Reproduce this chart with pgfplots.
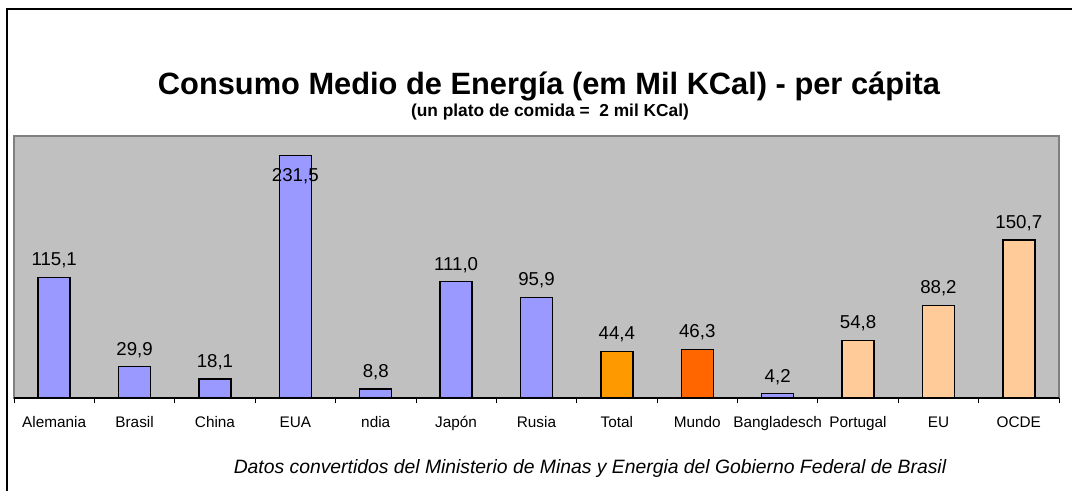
\documentclass[border=0pt]{standalone}
\usepackage{pgfplots}
\pgfplotsset{compat=1.18}
\usepackage{fontspec}
\setmainfont{Liberation Sans}
\definecolor{bgray}{HTML}{C0C0C0}
\definecolor{dgray}{HTML}{808080}
\definecolor{cblue}{HTML}{9999FF}
\definecolor{corange}{HTML}{FF9900}
\definecolor{cmundo}{HTML}{FF6600}
\definecolor{cpeach}{HTML}{FFCC99}
\begin{document}
\begin{tikzpicture}
\path[use as bounding box] (0,0) rectangle (804pt,368.25pt);
\draw[line width=1pt] (5.25pt,-1pt) -- (5.25pt,361.5pt) -- (805pt,361.5pt);
\node[anchor=base, font=\fontsize{23.1}{26}\selectfont\bfseries] at (411.75pt,297pt) {Consumo Medio de Energía (em Mil KCal) - per cápita};
\node[anchor=base, font=\fontsize{13}{15}\selectfont\bfseries] at (412.5pt,280.5pt) {(un plato de comida =\ \ 2 mil KCal)};
\node[anchor=base, font=\fontsize{14.5}{17}\selectfont\itshape] at (442.5pt,13pt) {Datos convertidos del Ministerio de Minas y Energia del Gobierno Federal de Brasil};
\begin{axis}[
  at={(10.5pt,69.75pt)}, anchor=south west,
  width=783.75pt, height=196.5pt, scale only axis,
  xmin=-0.5, xmax=12.5, ymin=0, ymax=250,
  axis background/.style={fill=bgray, draw=dgray, line width=1.2pt},
  axis x line*=bottom, axis y line=none,
  x axis line style={black, line width=0.8pt, -},
  xtick={0,...,12},
  xticklabels={Alemania,Brasil,China,EUA,ndia,Japón,Rusia,Total,Mundo,Bangladesch,Portugal,EU,OCDE},
  major tick length=0pt,
  xticklabel style={font=\fontsize{11.5}{13}\selectfont, yshift=-10.5pt},
  extra x ticks={-0.5,0.5,...,12.5},
  extra x tick labels={},
  extra x tick style={major tick length=4pt, xtick align=outside, tick style={black, line width=0.6pt}},
  ytick=\empty,
  ybar, bar width=24pt,
  nodes near coords={\pgfmathprintnumber[use comma,fixed,fixed zerofill,precision=1,assume math mode=true]{\pgfplotspointmeta}},
  every node near coord/.append style={font=\fontsize{14}{16}\selectfont, text=black, yshift=3pt},
  clip=false,
]
\addplot[bar shift=0pt, fill=cblue, draw=black, line width=1.1pt] coordinates {(0,115.1) (1,29.9) (2,18.1) (4,8.8) (5,111.0) (6,95.9) (9,4.2)};
\addplot[bar shift=0pt, fill=cblue, draw=black, line width=1.1pt, every node near coord/.append style={anchor=north, yshift=-9pt}] coordinates {(3,231.5)};
\addplot[bar shift=0pt, fill=corange, draw=black, line width=1.1pt] coordinates {(7,44.4)};
\addplot[bar shift=0pt, fill=cmundo, draw=black, line width=1.1pt] coordinates {(8,46.3)};
\addplot[bar shift=0pt, fill=cpeach, draw=black, line width=1.1pt] coordinates {(10,54.8) (11,88.2) (12,150.7)};
\end{axis}
\end{tikzpicture}
\end{document}
